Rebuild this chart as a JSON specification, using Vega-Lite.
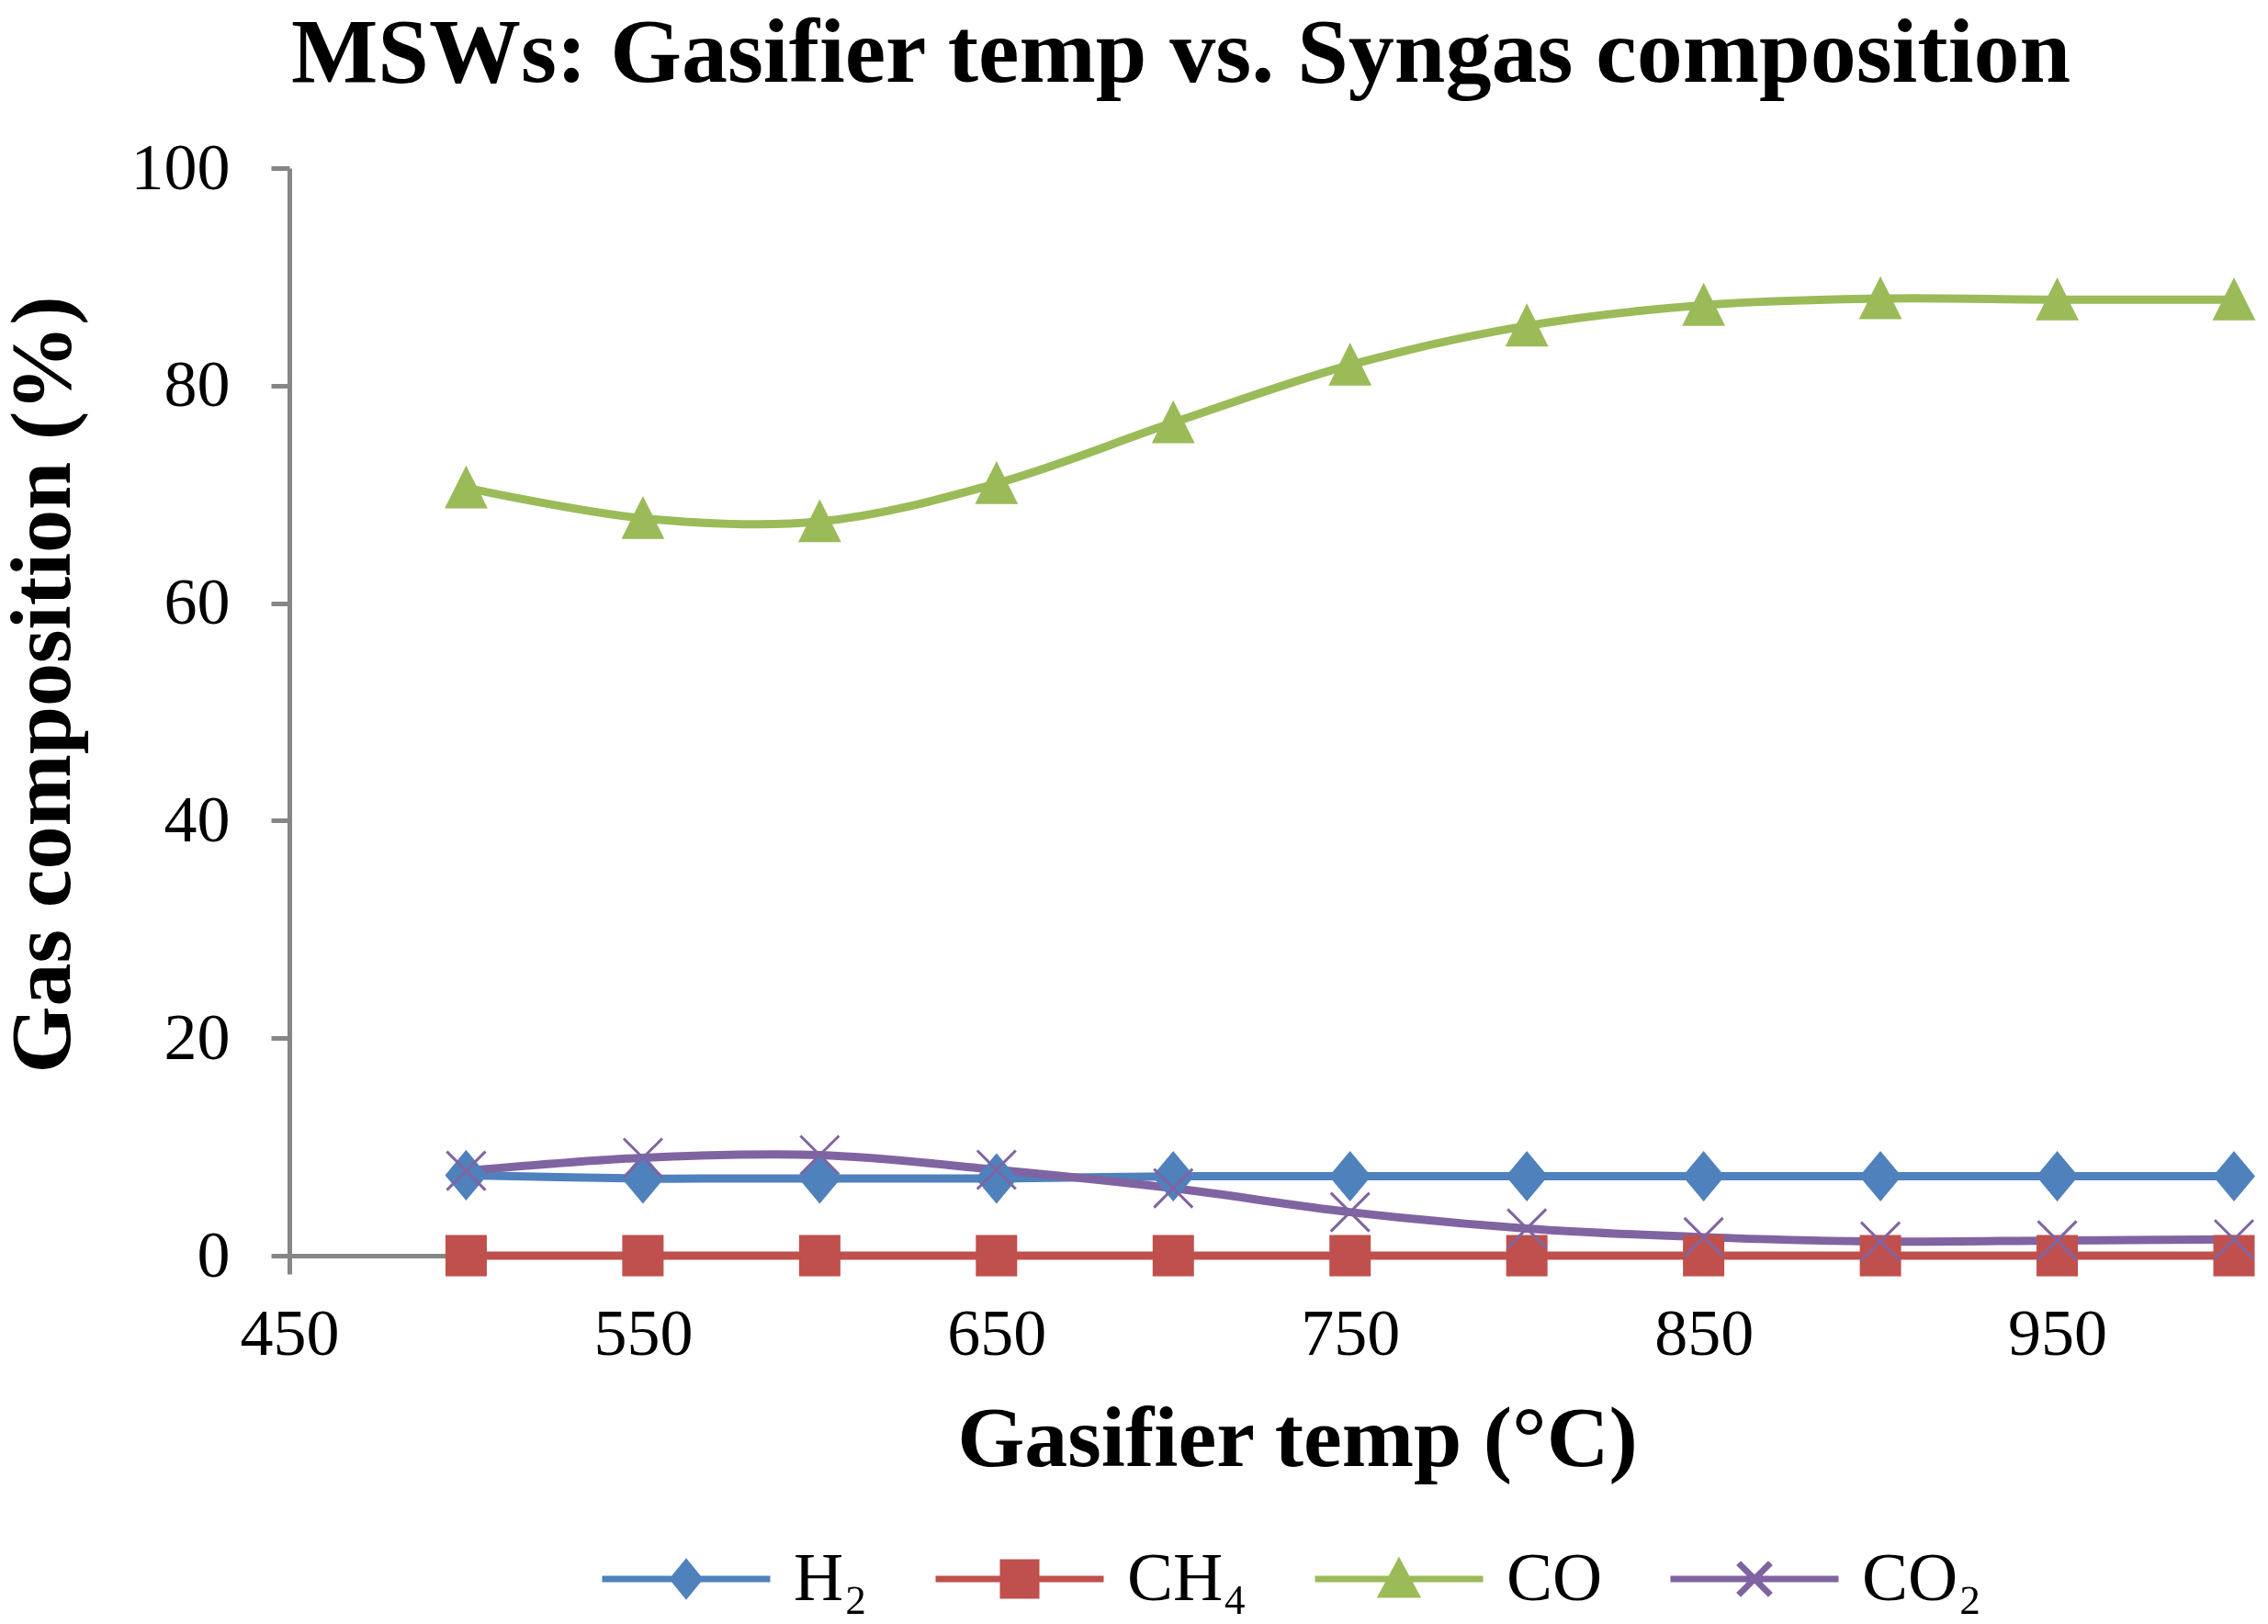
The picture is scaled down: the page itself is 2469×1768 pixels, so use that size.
{
  "$schema": "https://vega.github.io/schema/vega-lite/v6.json",
  "width": 2117,
  "height": 1184,
  "autosize": "none",
  "padding": {"left": 315, "top": 183, "right": 37, "bottom": 401},
  "background": "white",
  "title": {
    "text": "MSWs: Gasifier temp vs. Syngas composition",
    "font": "Liberation Serif",
    "fontSize": 100,
    "fontWeight": "bold",
    "color": "black",
    "anchor": "middle",
    "frame": "group",
    "dx": -88,
    "baseline": "alphabetic",
    "offset": -42
  },
  "data": {
    "values": [
      {"temp": 500, "gas": "H₂", "pct": 7.4},
      {"temp": 550, "gas": "H₂", "pct": 7.1},
      {"temp": 600, "gas": "H₂", "pct": 7.1},
      {"temp": 650, "gas": "H₂", "pct": 7.1},
      {"temp": 700, "gas": "H₂", "pct": 7.3},
      {"temp": 750, "gas": "H₂", "pct": 7.3},
      {"temp": 800, "gas": "H₂", "pct": 7.3},
      {"temp": 850, "gas": "H₂", "pct": 7.3},
      {"temp": 900, "gas": "H₂", "pct": 7.3},
      {"temp": 950, "gas": "H₂", "pct": 7.3},
      {"temp": 1000, "gas": "H₂", "pct": 7.3},
      {"temp": 500, "gas": "CH₄", "pct": 0},
      {"temp": 550, "gas": "CH₄", "pct": 0},
      {"temp": 600, "gas": "CH₄", "pct": 0},
      {"temp": 650, "gas": "CH₄", "pct": 0},
      {"temp": 700, "gas": "CH₄", "pct": 0},
      {"temp": 750, "gas": "CH₄", "pct": 0},
      {"temp": 800, "gas": "CH₄", "pct": 0},
      {"temp": 850, "gas": "CH₄", "pct": 0},
      {"temp": 900, "gas": "CH₄", "pct": 0},
      {"temp": 950, "gas": "CH₄", "pct": 0},
      {"temp": 1000, "gas": "CH₄", "pct": 0},
      {"temp": 500, "gas": "CO", "pct": 70.6},
      {"temp": 550, "gas": "CO", "pct": 67.8},
      {"temp": 600, "gas": "CO", "pct": 67.5},
      {"temp": 650, "gas": "CO", "pct": 71.0},
      {"temp": 700, "gas": "CO", "pct": 76.6},
      {"temp": 750, "gas": "CO", "pct": 81.9},
      {"temp": 800, "gas": "CO", "pct": 85.5},
      {"temp": 850, "gas": "CO", "pct": 87.4},
      {"temp": 900, "gas": "CO", "pct": 88.0},
      {"temp": 950, "gas": "CO", "pct": 87.9},
      {"temp": 1000, "gas": "CO", "pct": 87.9},
      {"temp": 500, "gas": "CO₂", "pct": 7.8},
      {"temp": 550, "gas": "CO₂", "pct": 9.0},
      {"temp": 600, "gas": "CO₂", "pct": 9.25},
      {"temp": 650, "gas": "CO₂", "pct": 7.9},
      {"temp": 700, "gas": "CO₂", "pct": 6.2},
      {"temp": 750, "gas": "CO₂", "pct": 4.0},
      {"temp": 800, "gas": "CO₂", "pct": 2.5},
      {"temp": 850, "gas": "CO₂", "pct": 1.7},
      {"temp": 900, "gas": "CO₂", "pct": 1.3},
      {"temp": 950, "gas": "CO₂", "pct": 1.4},
      {"temp": 1000, "gas": "CO₂", "pct": 1.5}
    ]
  },
  "encoding": {
    "x": {
      "field": "temp",
      "type": "quantitative",
      "scale": {"domain": [450, 1000], "nice": false, "zero": false},
      "axis": {
        "values": [450, 550, 650, 750, 850, 950],
        "title": "Gasifier temp (°C)",
        "labelFlush": false,
        "labelPadding": 30,
        "titlePadding": 33,
        "titleX": 1097
      }
    },
    "y": {
      "field": "pct",
      "type": "quantitative",
      "scale": {"domain": [0, 100], "nice": false},
      "axis": {
        "values": [0, 20, 40, 60, 80, 100],
        "title": "Gas composition (%)",
        "labelPadding": 45,
        "titlePadding": 47,
        "titleY": 562
      }
    }
  },
  "layer": [
    {
      "mark": {"type": "line", "interpolate": "catmull-rom", "strokeWidth": 9},
      "encoding": {
        "color": {
          "field": "gas",
          "type": "nominal",
          "scale": {
            "domain": ["H₂", "CH₄", "CO", "CO₂"],
            "range": ["#4F81BD", "#C0504D", "#9BBB59", "#8064A2"]
          },
          "legend": null
        }
      }
    },
    {
      "mark": {"type": "point", "filled": true, "opacity": 1, "size": 1764, "strokeWidth": 3},
      "encoding": {
        "color": {
          "field": "gas",
          "type": "nominal",
          "scale": {
            "domain": ["H₂", "CH₄", "CO", "CO₂"],
            "range": ["#4F81BD", "#C0504D", "#9BBB59", "#8064A2"]
          },
          "legend": null
        },
        "shape": {
          "field": "gas",
          "type": "nominal",
          "scale": {
            "domain": ["H₂", "CH₄", "CO", "CO₂"],
            "range": ["M0,-1.2L1,0L0,1.2L-1,0Z", "square", "M-1,1L1,1L0,-1Z", "M-1,-1L1,1M-1,1L1,-1"]
          },
          "legend": null
        },
        "stroke": {
          "field": "gas",
          "type": "nominal",
          "scale": {
            "domain": ["H₂", "CH₄", "CO", "CO₂"],
            "range": ["#4F81BD", "#C0504D", "#9BBB59", "#8064A2"]
          },
          "legend": null
        }
      }
    },
    {
      "transform": [{"filter": "false"}],
      "mark": {"type": "point", "filled": true, "opacity": 1},
      "encoding": {
        "shape": {
          "field": "gas",
          "type": "nominal",
          "scale": {
            "domain": ["H₂", "CH₄", "CO", "CO₂"],
            "range": [
              "M-1,0L1,0M0,-0.189L0.154,0L0,0.189L-0.154,0ZM0,-0.132L0.108,0L0,0.132L-0.108,0ZM0,-0.076L0.062,0L0,0.076L-0.062,0ZM0,-0.019L0.015,0L0,0.019L-0.015,0Z",
              "M-1,0L1,0M-0.197,-0.197L0.197,-0.197L0.197,0.197L-0.197,0.197ZM-0.142,-0.142L0.142,-0.142L0.142,0.142L-0.142,0.142ZM-0.087,-0.087L0.087,-0.087L0.087,0.087L-0.087,0.087ZM-0.033,-0.033L0.033,-0.033L0.033,0.033L-0.033,0.033Z",
              "M-1,0L1,0M-0.2,0.186L0.2,0.186L0,-0.186ZM-0.14,0.15L0.14,0.15L0,-0.11ZM-0.08,0.115L0.08,0.115L0,-0.034ZM-0.02,0.079L0.02,0.079L0,0.042Z",
              "M-1,0L1,0M-0.19,-0.19L0.19,0.19M-0.19,0.19L0.19,-0.19"
            ]
          },
          "legend": {
            "title": null,
            "orient": "none",
            "legendX": 337,
            "legendY": 1496,
            "direction": "horizontal",
            "padding": 0,
            "clipHeight": 80,
            "labelFont": "Liberation Serif",
            "labelFontSize": 75,
            "labelColor": "black",
            "symbolSize": 33489,
            "symbolStrokeWidth": 7,
            "symbolFillColor": "#4F81BD",
            "symbolOpacity": 1,
            "labelOffset": 22,
            "columnPadding": 70
          }
        },
        "fill": {
          "field": "gas",
          "type": "nominal",
          "scale": {
            "domain": ["H₂", "CH₄", "CO", "CO₂"],
            "range": ["#4F81BD", "#C0504D", "#9BBB59", "#8064A2"]
          },
          "legend": {
            "title": null,
            "orient": "none",
            "legendX": 337,
            "legendY": 1496,
            "direction": "horizontal",
            "padding": 0,
            "clipHeight": 80,
            "labelFont": "Liberation Serif",
            "labelFontSize": 75,
            "labelColor": "black",
            "symbolSize": 33489,
            "symbolStrokeWidth": 7,
            "symbolFillColor": "#4F81BD",
            "symbolOpacity": 1,
            "labelOffset": 22,
            "columnPadding": 70
          }
        },
        "stroke": {
          "field": "gas",
          "type": "nominal",
          "scale": {
            "domain": ["H₂", "CH₄", "CO", "CO₂"],
            "range": ["#4F81BD", "#C0504D", "#9BBB59", "#8064A2"]
          },
          "legend": {
            "title": null,
            "orient": "none",
            "legendX": 337,
            "legendY": 1496,
            "direction": "horizontal",
            "padding": 0,
            "clipHeight": 80,
            "labelFont": "Liberation Serif",
            "labelFontSize": 75,
            "labelColor": "black",
            "symbolSize": 33489,
            "symbolStrokeWidth": 7,
            "symbolFillColor": "#4F81BD",
            "symbolOpacity": 1,
            "labelOffset": 22,
            "columnPadding": 70
          }
        }
      }
    }
  ],
  "resolve": {"scale": {"shape": "independent", "stroke": "independent"}},
  "config": {
    "view": {"stroke": null},
    "axis": {
      "grid": false,
      "domainColor": "#868686",
      "domainWidth": 5,
      "tickColor": "#868686",
      "tickWidth": 5,
      "tickSize": 20,
      "labelFont": "Liberation Serif",
      "labelFontSize": 72,
      "labelColor": "black",
      "titleFont": "Liberation Serif",
      "titleFontSize": 94,
      "titleFontWeight": "bold",
      "titleColor": "black"
    }
  }
}
